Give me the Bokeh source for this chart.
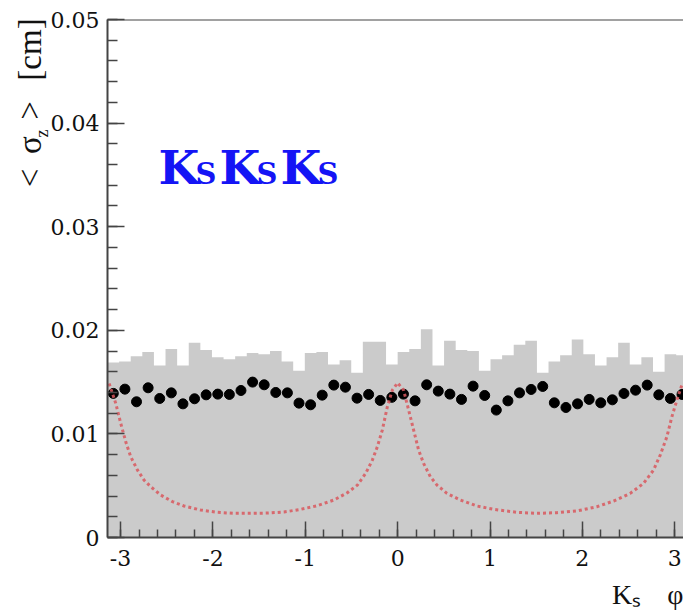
import numpy as np
from bokeh.plotting import figure
from bokeh.models import Range1d, FixedTicker, Span, Label, LinearAxis
from bokeh.embed import file_html
from bokeh.resources import INLINE

# ---------------- data ----------------
n_bins = 50
phi_edges = np.linspace(-np.pi, np.pi, n_bins + 1)
phi_centers = 0.5 * (phi_edges[:-1] + phi_edges[1:])

hist_vals = [0.0169, 0.0170, 0.0175, 0.0179, 0.0166, 0.0182, 0.0166, 0.0188, 0.0181, 0.0174,
             0.0172, 0.0175, 0.0178, 0.0177, 0.0180, 0.0170, 0.0161, 0.0178, 0.0179, 0.0167,
             0.0171, 0.0159, 0.0189, 0.0189, 0.0167, 0.0179, 0.0182, 0.0201, 0.0166, 0.0190,
             0.0181, 0.0180, 0.0161, 0.0172, 0.0176, 0.0186, 0.0190, 0.0159, 0.0170, 0.0176,
             0.0191, 0.0177, 0.0166, 0.0174, 0.0188, 0.0167, 0.0174, 0.0160, 0.0177, 0.0176]

dot_vals = [0.01391, 0.01432, 0.01310, 0.01445, 0.01342, 0.01396, 0.01290, 0.01339, 0.01377, 0.01384,
            0.01381, 0.01419, 0.01500, 0.01474, 0.01400, 0.01396, 0.01297, 0.01281, 0.01374, 0.01471,
            0.01451, 0.01345, 0.01381, 0.01323, 0.01353, 0.01384, 0.01319, 0.01474, 0.01413, 0.01384,
            0.01333, 0.01461, 0.01371, 0.01230, 0.01319, 0.01396, 0.01429, 0.01458, 0.01300, 0.01255,
            0.01290, 0.01333, 0.01300, 0.01329, 0.01390, 0.01422, 0.01471, 0.01377, 0.01342, 0.01381]

curve_phi = [-3.124, -3.052, -2.998, -2.944, -2.890, -2.817, -2.746, -2.673, -2.565, -2.438,
             -2.313, -2.132, -1.951, -1.772, -1.591, -1.410, -1.230, -1.050, -0.869, -0.689,
             -0.545, -0.436, -0.346, -0.274, -0.220, -0.166, -0.112, -0.058, 0.000,
             0.065, 0.119, 0.173, 0.227, 0.281, 0.354, 0.426, 0.534, 0.678, 0.859,
             1.039, 1.291, 1.508, 1.724, 1.941, 2.157, 2.338, 2.518, 2.662, 2.771,
             2.843, 2.915, 2.969, 3.023, 3.077, 3.124]
curve_vals = [0.01487, 0.01294, 0.01101, 0.00924, 0.00779, 0.00651, 0.00554, 0.00490, 0.00410, 0.00346,
              0.00304, 0.00265, 0.00243, 0.00233, 0.00233, 0.00236, 0.00246, 0.00272, 0.00307, 0.00362,
              0.00432, 0.00506, 0.00619, 0.00747, 0.00876, 0.01037, 0.01261, 0.01422, 0.01493,
              0.01422, 0.01230, 0.01037, 0.00844, 0.00715, 0.00587, 0.00506, 0.00426, 0.00362, 0.00304,
              0.00272, 0.00243, 0.00233, 0.00240, 0.00256, 0.00297, 0.00352, 0.00426, 0.00522, 0.00651,
              0.00796, 0.00972, 0.01165, 0.01326, 0.01471, 0.01487]

x_ticks = [-3, -2, -1, 0, 1, 2, 3]
x_tick_labels = ["-3", "-2", "-1", "0", "1", "2", "3"]
y_ticks = [0, 0.01, 0.02, 0.03, 0.04, 0.05]
y_tick_labels = ["0", "0.01", "0.02", "0.03", "0.04", "0.05"]

# ---------------- figure ----------------
W, H = 683, 613
FL, FT, FB = 107, 19, 76
X0, X1 = -np.pi, 3.095
Y0, Y1 = 0.0, 0.05

p = figure(width=W, height=H, output_backend="svg", toolbar_location=None,
           x_range=Range1d(X0, X1), y_range=Range1d(Y0, Y1),
           min_border_left=FL, min_border_right=0, min_border_top=FT, min_border_bottom=FB)
p.outline_line_color = None
p.grid.visible = False
p.background_fill_color = "white"
p.border_fill_color = "white"

fw = W - FL
fh = H - FT - FB
def dx(px):
    return round(X0 + (px - FL) / fw * (X1 - X0), 5)
def dy(py):
    return round(Y0 + (H - FB - py) / fh * (Y1 - Y0), 6)

# histogram (filled step)
p.varea_step(x=list(phi_edges), y1=0, y2=hist_vals + [hist_vals[-1]], step_mode="after",
             fill_color="#cbcbcb")
# points
p.scatter(phi_centers, dot_vals, size=10, marker="circle", fill_color="black", line_color="black")
# dotted curve
p.line(curve_phi, curve_vals, line_color="#d9585e", line_alpha=0.85, line_width=3, line_dash="3 3")

# top frame line
p.add_layout(Span(location=Y1, dimension="width", line_color="#444444", line_width=2))

AX = "#444444"
xax = p.xaxis[0]
yax = p.yaxis[0]
for ax in (xax, yax):
    ax.axis_line_color = AX
    ax.axis_line_width = 2
    ax.major_tick_line_color = AX
    ax.minor_tick_line_color = AX
    ax.major_tick_line_width = 1.5
    ax.minor_tick_line_width = 1.5
    ax.major_tick_out = 0
    ax.minor_tick_out = 0
    ax.major_label_text_font = "DejaVu Serif"
    ax.major_label_text_font_size = "22px"
    ax.major_label_text_color = "#111111"

xax.major_label_standoff = 12
yax.major_label_standoff = 8

xax.ticker = FixedTicker(ticks=x_ticks, minor_ticks=list(np.round(np.arange(-3.0, 3.01, 0.2), 2)))
xax.major_label_overrides = dict(zip(x_ticks, x_tick_labels))
xax.major_tick_in = 16
xax.minor_tick_in = 8

yax.ticker = FixedTicker(ticks=y_ticks, minor_ticks=list(np.round(np.arange(0, 0.0501, 0.002), 3)))
yax.major_label_overrides = dict(zip(y_ticks, y_tick_labels))
yax.major_tick_in = 17
yax.minor_tick_in = 10

# KsKsKs label (inside the frame)
blue = "#1414f5"
for kx, sx in [(158, 195), (219, 256), (280, 317)]:
    p.add_layout(Label(x=dx(kx), y=dy(167), text="K", text_font="DejaVu Serif",
                       text_font_style="bold", text_font_size="47px", text_color=blue,
                       text_align="left", text_baseline="alphabetic"))
    p.add_layout(Label(x=dx(sx), y=dy(173), text="S", text_font="DejaVu Serif",
                       text_font_style="bold", text_font_size="29px", text_color=blue,
                       text_align="left", text_baseline="alphabetic"))

def title_axis(ticks, labels, side, font_size, standoff, orientation):
    ax = LinearAxis(ticker=FixedTicker(ticks=ticks, minor_ticks=[]),
                    major_label_overrides=dict(zip(ticks, labels)),
                    axis_line_color=None, major_tick_line_color=None, minor_tick_line_color=None,
                    major_tick_in=0, major_tick_out=0, minor_tick_in=0, minor_tick_out=0,
                    major_label_text_font="Liberation Serif",
                    major_label_text_font_size=font_size,
                    major_label_text_color="#111111",
                    major_label_standoff=standoff,
                    major_label_orientation=orientation)
    p.add_layout(ax, side)
    return ax

# y axis title: "< σ_z > [cm]" (subscript on its own, inner, axis)
title_axis([dy(133)], ["z"], "left", "18px", -5, "vertical")
title_axis([dy(177.5), dy(144.5), dy(110), dy(49)], ["<", "σ", ">", "[cm]"], "left", "33px", -19, "vertical")

# x axis title: "Kₛ φ" at the right end
title_axis([dx(626), dx(678)], ["Kₛ", "φ"], "below", "28px", 10, "horizontal")

open("out.html", "w").write(file_html(p, INLINE))
